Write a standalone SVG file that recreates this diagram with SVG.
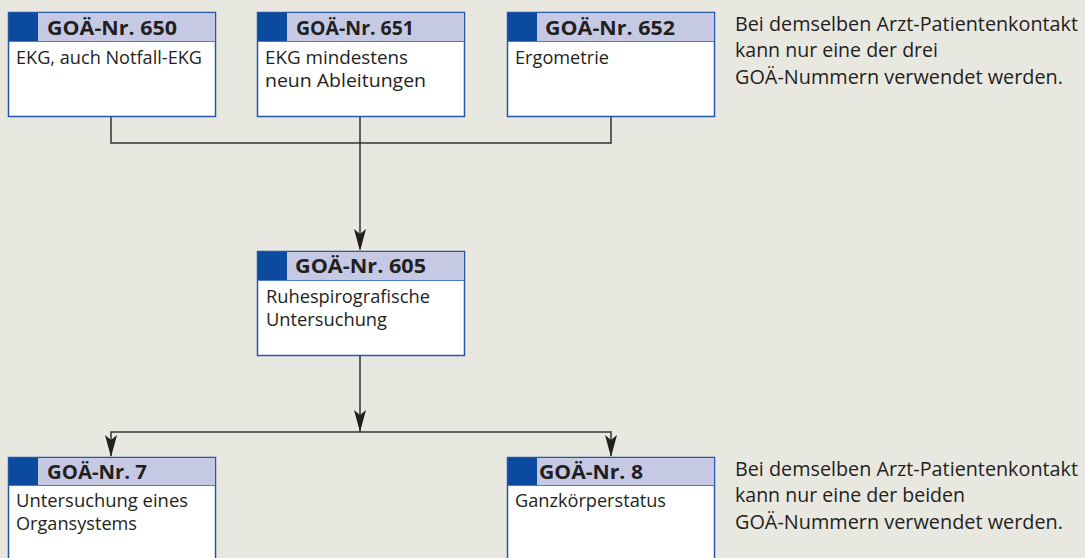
<svg xmlns="http://www.w3.org/2000/svg" width="1085" height="558" viewBox="0 0 1085 558">
<style>
.box{fill:#ffffff;stroke:#2457a8;stroke-width:1.5}
.hdr{fill:#c6c9e4}
.tab{fill:#0b4a9e}
.hl{stroke:#4a7cc4;stroke-width:1}
.ht{font-family:"Open Sans","Liberation Sans",sans-serif;font-weight:bold;font-size:20px;fill:#231f20}
.bt{font-family:"Open Sans","Liberation Sans",sans-serif;font-size:18px;fill:#231f20}
.note{font-family:"Open Sans","Liberation Sans",sans-serif;font-size:20px;fill:#231f20}
.ln{fill:none;stroke:#333333;stroke-width:1.5}
.ah{fill:#231f20}
</style>
<rect width="1085" height="558" fill="#e9e8e0"/>
<g id="connectors">
<path class="ln" d="M111,117 V143 H611 V117"/>
<path class="ln" d="M360,117 V143"/>
<path class="ln" d="M360,143 V249"/>
<path class="ah" d="M354,229 L360,234 L366,229 L360,251 Z"/>
<path class="ln" d="M360,356 V432"/>
<path class="ah" d="M354,410 L360,415 L366,410 L360,432 Z"/>
<path class="ln" d="M111,456 V432 H611 V456"/>
<path class="ah" d="M105,435 L111,440 L117,435 L111,457 Z"/>
<path class="ah" d="M605,435 L611,440 L617,435 L611,457 Z"/>
</g>
<g id="n650">
<rect class="box" x="8.5" y="12.5" width="207" height="104"/>
<rect class="hdr" x="9" y="13" width="206" height="28"/>
<rect class="tab" x="9" y="13" width="29" height="28"/>
<line class="hl" x1="9" y1="41.5" x2="215" y2="41.5"/>
<text class="ht" x="47" y="35" textLength="130" lengthAdjust="spacingAndGlyphs">GOÄ-Nr. 650</text>
<text class="bt" x="16" y="64" textLength="186" lengthAdjust="spacingAndGlyphs">EKG, auch Notfall-EKG</text>
</g>
<g id="n651">
<rect class="box" x="257.5" y="12.5" width="207" height="104"/>
<rect class="hdr" x="258" y="13" width="206" height="28"/>
<rect class="tab" x="258" y="13" width="29" height="28"/>
<line class="hl" x1="258" y1="41.5" x2="464" y2="41.5"/>
<text class="ht" x="296" y="35" textLength="118" lengthAdjust="spacingAndGlyphs">GOÄ-Nr. 651</text>
<text class="bt" x="265" y="64" textLength="143" lengthAdjust="spacingAndGlyphs">EKG mindestens</text>
<text class="bt" x="265" y="87" textLength="161" lengthAdjust="spacingAndGlyphs">neun Ableitungen</text>
</g>
<g id="n652">
<rect class="box" x="507.5" y="12.5" width="207" height="104"/>
<rect class="hdr" x="508" y="13" width="206" height="28"/>
<rect class="tab" x="508" y="13" width="29" height="28"/>
<line class="hl" x1="508" y1="41.5" x2="714" y2="41.5"/>
<text class="ht" x="545" y="35" textLength="130" lengthAdjust="spacingAndGlyphs">GOÄ-Nr. 652</text>
<text class="bt" x="515" y="64" textLength="94" lengthAdjust="spacingAndGlyphs">Ergometrie</text>
</g>
<g id="note1">
<text class="note" x="735" y="31" textLength="343" lengthAdjust="spacingAndGlyphs">Bei demselben Arzt-Patientenkontakt</text>
<text class="note" x="735" y="57" textLength="203" lengthAdjust="spacingAndGlyphs">kann nur eine der drei</text>
<text class="note" x="735" y="84" textLength="328" lengthAdjust="spacingAndGlyphs">GOÄ-Nummern verwendet werden.</text>
</g>
<g id="n605">
<rect class="box" x="257.5" y="251.5" width="207" height="104"/>
<rect class="hdr" x="258" y="252" width="206" height="28"/>
<rect class="tab" x="258" y="252" width="29" height="28"/>
<line class="hl" x1="258" y1="280.5" x2="464" y2="280.5"/>
<text class="ht" x="295" y="273" textLength="131" lengthAdjust="spacingAndGlyphs">GOÄ-Nr. 605</text>
<text class="bt" x="266" y="303" textLength="164" lengthAdjust="spacingAndGlyphs">Ruhespirografische</text>
<text class="bt" x="266" y="326" textLength="121" lengthAdjust="spacingAndGlyphs">Untersuchung</text>
</g>
<g id="n7">
<rect class="box" x="8.5" y="457.5" width="207" height="104"/>
<rect class="hdr" x="9" y="458" width="206" height="27"/>
<rect class="tab" x="9" y="458" width="29" height="27"/>
<line class="hl" x1="9" y1="485.5" x2="215" y2="485.5"/>
<text class="ht" x="47" y="479" textLength="100" lengthAdjust="spacingAndGlyphs">GOÄ-Nr. 7</text>
<text class="bt" x="16" y="507" textLength="172" lengthAdjust="spacingAndGlyphs">Untersuchung eines</text>
<text class="bt" x="16" y="530" textLength="121" lengthAdjust="spacingAndGlyphs">Organsystems</text>
</g>
<g id="n8">
<rect class="box" x="507.5" y="457.5" width="207" height="104"/>
<rect class="hdr" x="508" y="458" width="206" height="27"/>
<rect class="tab" x="508" y="458" width="29" height="27"/>
<line class="hl" x1="508" y1="485.5" x2="714" y2="485.5"/>
<text class="ht" x="539" y="479" textLength="104" lengthAdjust="spacingAndGlyphs">GOÄ-Nr. 8</text>
<text class="bt" x="515" y="507" textLength="151" lengthAdjust="spacingAndGlyphs">Ganzkörperstatus</text>
</g>
<g id="note2">
<text class="note" x="735" y="476" textLength="343" lengthAdjust="spacingAndGlyphs">Bei demselben Arzt-Patientenkontakt</text>
<text class="note" x="735" y="502" textLength="230" lengthAdjust="spacingAndGlyphs">kann nur eine der beiden</text>
<text class="note" x="735" y="529" textLength="328" lengthAdjust="spacingAndGlyphs">GOÄ-Nummern verwendet werden.</text>
</g>
</svg>
